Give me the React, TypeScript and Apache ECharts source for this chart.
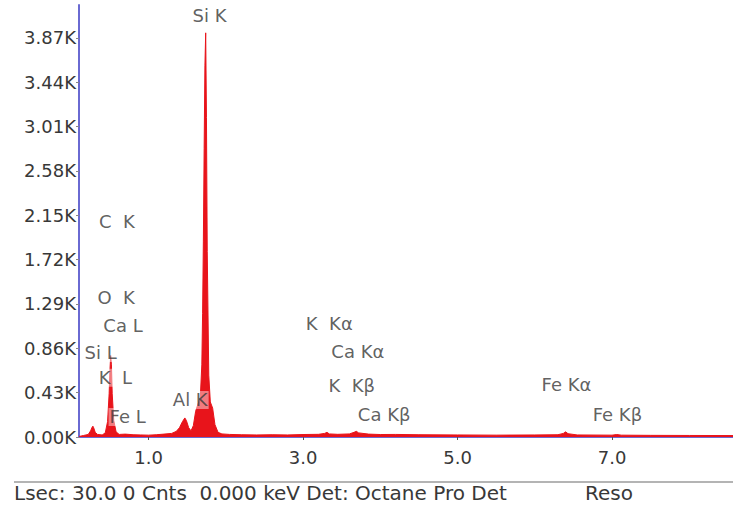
import React, { useEffect, useRef } from "react";
import * as echarts from "echarts";

// Spectrum (energy in keV, counts)
const energyKeV = [0.10, 0.16, 0.22, 0.25, 0.27, 0.28, 0.29, 0.31, 0.34, 0.40, 0.44, 0.47, 0.49, 0.50, 0.51, 0.52, 0.53, 0.55, 0.58, 0.62, 0.70, 0.80, 0.90, 1.00, 1.10, 1.20, 1.30, 1.36, 1.40, 1.44, 1.47, 1.49, 1.52, 1.55, 1.58, 1.61, 1.64, 1.67, 1.69, 1.70, 1.71, 1.72, 1.73, 1.74, 1.75, 1.76, 1.78, 1.80, 1.83, 1.86, 1.90, 1.95, 2.05, 2.20, 2.40, 2.60, 2.80, 3.00, 3.20, 3.28, 3.31, 3.34, 3.45, 3.60, 3.66, 3.69, 3.72, 3.85, 4.00, 4.20, 4.50, 5.00, 5.50, 6.00, 6.30, 6.37, 6.40, 6.43, 6.55, 7.00, 7.06, 7.12, 7.50, 8.00, 8.57];
const counts = [5, 15, 25, 60, 95, 105, 90, 45, 25, 20, 40, 150, 420, 640, 790, 700, 420, 160, 50, 25, 28, 22, 20, 18, 22, 28, 35, 55, 90, 150, 185, 160, 90, 60, 110, 250, 320, 380, 700, 1200, 1900, 2800, 3600, 3920, 3100, 1800, 600, 340, 280, 120, 45, 30, 25, 22, 20, 22, 20, 24, 26, 35, 45, 30, 26, 30, 45, 55, 40, 28, 24, 25, 22, 20, 18, 20, 22, 35, 50, 32, 20, 18, 24, 18, 16, 15, 14];

// Peak labels: name, energy (keV) and count level where the label sits
const peakNames = ["Si K", "C  K", "O  K", "Ca L", "Si L", "K  L", "Fe L", "Al K", "K  Kα", "Ca Kα", "K  Kβ", "Ca Kβ", "Fe Kα", "Fe Kβ"];
const peakLabelEnergy = [1.79, 0.59, 0.58, 0.67, 0.38, 0.57, 0.73, 1.54, 3.34, 3.71, 3.63, 4.05, 6.41, 7.07];
const peakLabelCount = [4090, 2090, 1350, 1085, 815, 575, 195, 360, 1105, 825, 495, 215, 505, 215];

const yTickValues = [0, 430, 860, 1290, 1720, 2150, 2580, 3010, 3440, 3870];
const xTickValues = [1, 3, 5, 7];

const footerLeft = "Lsec: 30.0 0 Cnts  0.000 keV Det: Octane Pro Det";
const footerRight = "Reso";

const FONT = "DejaVu Sans";
const TEXT = "#383838";
const AXIS = "#6a6ad2";

export default function App() {
  const ref = useRef<HTMLDivElement>(null);
  useEffect(() => {
    if (!ref.current) return;
    const chart = echarts.init(ref.current, undefined, { renderer: "svg" });
    const spectrum = energyKeV.map((e, i) => [e, counts[i]]);
    const labels = peakNames.map((n, i) => ({ name: n, value: [peakLabelEnergy[i], peakLabelCount[i]] }));
    chart.setOption({
      animation: false,
      backgroundColor: "#ffffff",
      grid: { left: 79, top: 5, right: 0, bottom: 69 },
      xAxis: {
        type: "value",
        min: 0.1,
        max: 8.566,
        splitLine: { show: false },
        axisLine: { show: true, lineStyle: { color: AXIS, width: 2 } },
        axisTick: { show: true, length: 3, customValues: xTickValues, lineStyle: { color: "#555" } },
        axisLabel: {
          customValues: xTickValues,
          formatter: (v: number) => v.toFixed(1),
          color: TEXT,
          fontFamily: FONT,
          fontSize: 18,
          margin: 11,
        },
      },
      yAxis: {
        type: "value",
        min: 0,
        max: 4190,
        splitLine: { show: false },
        axisLine: { show: true, lineStyle: { color: AXIS, width: 2 } },
        axisTick: { show: true, length: 3, customValues: yTickValues, lineStyle: { color: "#888" } },
        axisLabel: {
          customValues: yTickValues,
          formatter: (v: number) => (v / 1000).toFixed(2) + "K",
          color: TEXT,
          fontFamily: FONT,
          fontSize: 18,
          margin: 3,
        },
      },
      series: [
        {
          type: "line",
          data: spectrum,
          symbol: "none",
          lineStyle: { color: "#e8141b", width: 1 },
          areaStyle: { color: "#e8141b", opacity: 1 },
          z: 2,
        },
        {
          type: "scatter",
          data: labels,
          symbolSize: 0,
          z: 5,
          label: {
            show: true,
            position: "inside",
            formatter: (p: any) => p.name,
            color: TEXT,
            fontFamily: FONT,
            fontSize: 18,
            backgroundColor: "rgba(255,255,255,0.55)",
            padding: [0, 1],
          },
        },
      ],
      graphic: [
        { type: "line", shape: { x1: 14, y1: 482, x2: 733, y2: 482 }, style: { stroke: "#b4b4b4", lineWidth: 2 } },
        { type: "text", x: 14, y: 493, style: { text: footerLeft, fill: TEXT, font: `20px "${FONT}"`, textVerticalAlign: "middle" } },
        { type: "text", x: 585, y: 493, style: { text: footerRight, fill: TEXT, font: `20px "${FONT}"`, textVerticalAlign: "middle" } },
      ],
    });
    return () => chart.dispose();
  }, []);
  return <div ref={ref} style={{ position: "fixed", left: 0, top: 0, width: 733, height: 506 }} />;
}
